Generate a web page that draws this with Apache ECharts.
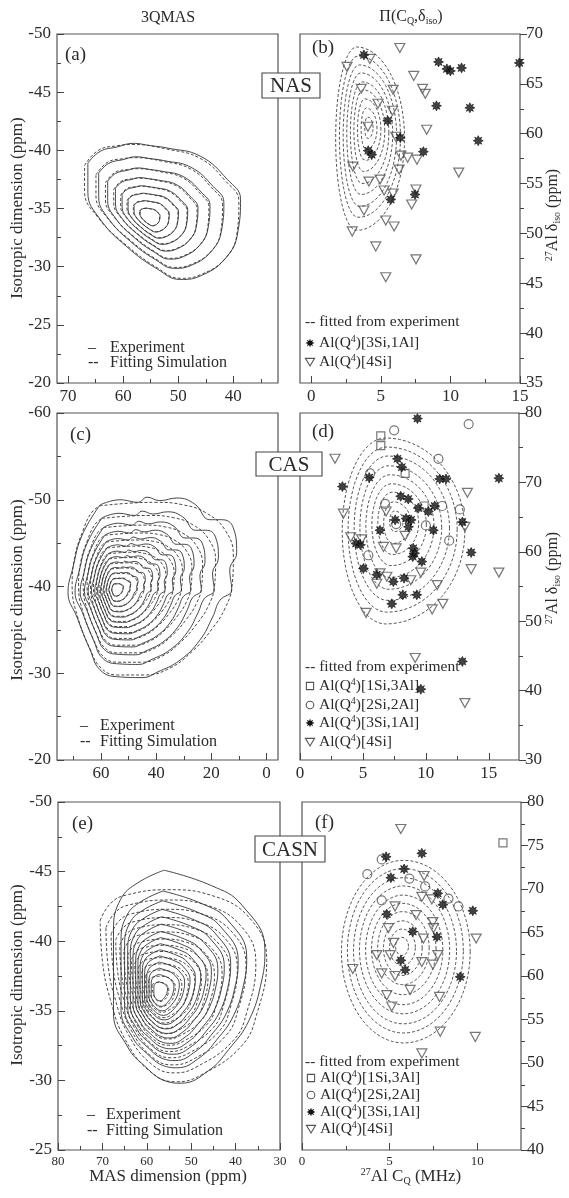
<!DOCTYPE html>
<html>
<head>
<meta charset="utf-8">
<script src="https://cdn.jsdelivr.net/npm/echarts@6/dist/echarts.min.js"></script>
<style>html,body{margin:0;padding:0;background:#fff}#c{width:569px;height:1198px}</style>
</head>
<body>
<div id="c"></div>
<script>
// ---------- 3QMAS contour data (MAS ppm, isotropic ppm) ----------
const aCenter = [55.5, -34.2];
const aExpOuter = [[66.4,-38.9],[64.2,-39.9],[61.0,-40.3],[58.2,-40.6],[55.0,-40.4],[52.0,-40.2],[46.0,-39.5],[41.1,-37.5],[38.7,-35.8],[39.1,-33.2],[41.1,-30.9],[46.0,-29.2],[49.6,-28.9],[53.8,-29.8],[59.3,-31.7],[64.2,-34.1],[66.4,-36.4]];
const aSimOuter = [[67.0,-38.7],[64.5,-40.0],[61.0,-40.4],[58.2,-40.5],[52.0,-40.1],[46.0,-39.3],[41.5,-37.4],[39.0,-35.6],[39.3,-33.0],[41.3,-30.8],[46.0,-29.3],[49.6,-29.0],[53.8,-29.9],[59.3,-31.8],[64.5,-34.2],[67.0,-36.5]];
const aLevels = [1, 0.82, 0.67, 0.54, 0.43, 0.33, 0.23, 0.13];

const cCenter = [55.0, -39.6];
const cExpOuter = [[60.4,-49.4],[53.2,-50.0],[46.5,-49.7],[43.4,-50.3],[38.7,-49.9],[32.5,-50.2],[26.0,-49.5],[20.6,-47.7],[16.2,-47.7],[12.2,-46.9],[10.8,-43.9],[13.3,-41.9],[12.6,-39.6],[16.9,-38.4],[19.5,-36.5],[24.2,-33.8],[31.4,-31.5],[39.8,-30.1],[44.8,-29.5],[54.3,-29.6],[60.4,-30.4],[64.0,-32.7],[68.8,-36.5],[72.0,-39.3],[70.2,-42.2],[66.9,-45.9]];
const cSimOuter = [[60.5,-49.3],[50.0,-49.6],[40.0,-49.7],[30.0,-49.4],[22.0,-48.5],[15.0,-46.5],[12.0,-43.5],[12.5,-40.0],[15.0,-37.5],[20.0,-35.0],[27.0,-32.5],[35.0,-30.6],[44.0,-29.8],[54.0,-29.8],[60.0,-30.6],[64.0,-32.8],[68.5,-36.5],[70.5,-40.0],[69.5,-43.5],[66.5,-46.5],[63.5,-48.5]];
const cLevels = [1, 0.85, 0.74, 0.65, 0.57, 0.5, 0.43, 0.37, 0.31, 0.25, 0.19, 0.13, 0.07];

const eCenter = [57.5, -36.3];
const eExpOuter = [[56.1,-45.1],[62.0,-44.2],[65.9,-43.0],[67.5,-40.8],[67.5,-37.2],[67.5,-34.8],[64.3,-32.4],[61.4,-31.3],[55.2,-29.9],[52.3,-29.8],[46.1,-30.7],[41.6,-32.2],[37.0,-34.3],[34.1,-37.2],[33.4,-39.4],[38.6,-42.6],[45.5,-44.0]];
const eSimOuter = [[70.5,-41.5],[68.2,-42.7],[64.8,-43.3],[55.2,-43.7],[45.5,-43.3],[36.4,-41.5],[33.0,-38.6],[35.2,-34.8],[38.6,-32.5],[47.7,-30.4],[53.4,-29.9],[59.1,-30.6],[64.8,-32.9],[68.2,-35.8],[70.0,-38.6]];
const eExpLevels = [1, 0.83, 0.75, 0.68, 0.62, 0.56, 0.5, 0.45, 0.4, 0.35, 0.3, 0.25, 0.2, 0.15, 0.09];
const eSimLevels = [1, 0.9, 0.81, 0.73, 0.66, 0.59, 0.52, 0.46, 0.4, 0.34, 0.28, 0.22, 0.16, 0.1];

// ---------- fitted (CQ, delta_iso) distribution rings: [cx, cy, rxLeft, rxRight, ry] ----------
const bRings = [[4.05,60.6,0.20,0.40,1.1],[3.95,60.5,0.36,0.78,2.1],[3.85,60.4,0.52,1.16,3.1],[3.75,60.3,0.68,1.54,4.1],[3.66,60.1,0.84,1.92,5.1],[3.56,60.0,1.00,2.30,6.1],[3.46,59.8,1.16,2.68,7.1],[3.36,59.7,1.33,3.06,8.1],[3.26,59.5,1.50,3.45,9.2]];
const dRings = [[7.50,64.4,0.38,0.70,1.5],[7.41,64.2,0.76,1.40,3.0],[7.33,64.1,1.15,2.10,4.5],[7.24,63.9,1.53,2.80,5.9],[7.15,63.7,1.92,3.50,7.4],[7.06,63.5,2.30,4.20,8.9],[6.98,63.4,2.68,4.90,10.4],[6.89,63.2,3.07,5.60,11.9],[6.80,63.0,3.45,6.30,13.4]];
const fRings = [[5.70,63.4,0.36,0.38,1.05],[5.71,63.3,0.71,0.76,2.1],[5.72,63.2,1.07,1.14,3.15],[5.74,63.2,1.42,1.52,4.2],[5.75,63.1,1.78,1.90,5.25],[5.76,63.0,2.13,2.28,6.3],[5.77,63.0,2.49,2.66,7.35],[5.78,62.9,2.84,3.04,8.4],[5.79,62.9,3.20,3.42,9.45],[5.80,62.8,3.55,3.80,10.5]];

// ---------- individual Al sites (CQ MHz, delta_iso ppm) ----------
const bStar = [[3.79,67.9],[9.15,67.2],[9.75,66.5],[10.0,66.3],[10.8,66.6],[14.95,67.1],[9.0,62.8],[11.4,62.6],[5.5,61.3],[12.0,59.3],[6.4,59.6],[8.06,58.2],[4.1,58.3],[4.35,57.9],[5.72,53.4],[7.46,53.9]];
const bTri = [[6.37,68.6],[2.58,66.7],[4.22,67.5],[7.37,65.8],[3.6,64.5],[5.89,64.4],[8.0,64.5],[8.2,64.0],[4.8,63.0],[5.84,62.3],[8.3,60.4],[4.08,60.7],[6.08,59.7],[6.45,57.8],[6.93,57.6],[7.6,57.4],[6.32,56.4],[3.0,56.7],[10.6,56.1],[4.15,55.2],[4.95,55.4],[5.24,54.3],[5.89,54.0],[7.53,54.4],[7.22,52.9],[3.79,52.3],[5.36,51.3],[5.96,50.7],[2.95,50.2],[4.64,48.7],[7.53,47.4],[5.36,45.6]];

const dStar = [[9.33,79.2],[15.8,70.6],[7.74,73.4],[8.09,72.2],[5.5,70.7],[3.37,69.4],[11.1,70.5],[11.6,70.5],[8.0,68.0],[8.6,67.6],[9.4,66.3],[10.2,65.8],[10.7,66.6],[7.56,64.6],[8.43,64.8],[8.83,64.6],[8.62,63.6],[6.36,63.1],[10.6,63.1],[12.9,64.3],[4.45,61.2],[4.8,61.0],[9.0,60.5],[9.1,59.8],[8.96,59.3],[9.68,58.6],[5.04,57.6],[6.1,56.7],[7.42,55.7],[8.27,56.2],[13.6,59.9],[8.17,53.8],[9.28,53.8],[7.29,52.5],[12.9,44.2],[9.6,40.2]];
const dCircle = [[7.48,77.5],[13.4,78.4],[11.0,73.4],[5.57,71.3],[11.3,66.6],[12.7,66.1],[6.76,66.9],[7.64,64.0],[10.0,63.8],[11.85,61.6],[5.43,59.5]];
const dSquare = [[6.42,76.7],[6.42,75.3],[8.35,71.3],[9.86,66.6]];
const dTri = [[2.78,73.4],[3.45,65.5],[13.3,68.5],[6.84,65.8],[4.03,62.1],[4.9,61.8],[8.35,62.3],[6.63,60.7],[7.64,60.5],[9.6,57.0],[13.6,57.5],[15.8,57.0],[6.36,56.9],[6.9,56.4],[6.1,55.4],[8.8,55.9],[10.9,55.2],[13.1,63.6],[5.25,51.2],[10.5,51.7],[11.35,52.5],[9.15,44.7],[13.1,38.2]];

const fStar = [[6.84,74.1],[4.8,73.7],[5.83,72.3],[5.07,71.3],[7.75,69.5],[8.04,68.2],[9.75,67.5],[4.84,67.1],[6.32,65.1],[7.7,64.5],[5.64,61.8],[5.89,60.7],[9.03,59.9]];
const fCircle = [[4.55,73.4],[3.73,71.7],[6.13,71.2],[7.03,70.3],[4.55,68.7],[8.36,68.9],[8.93,68.0]];
const fSquare = [[11.47,75.3]];
const fTri = [[5.64,76.9],[6.97,71.5],[6.84,69.1],[7.41,68.8],[5.31,68.0],[6.51,67.0],[7.47,66.2],[7.5,65.5],[4.93,65.5],[6.93,64.3],[9.94,64.3],[5.22,63.8],[4.27,62.4],[5.03,62.4],[7.75,62.4],[6.84,61.6],[7.47,61.3],[2.9,60.8],[4.55,60.3],[5.31,60.0],[4.84,57.8],[6.17,58.4],[7.85,57.6],[5.12,56.5],[7.89,53.6],[9.89,53.0],[6.84,51.1]];

// ---------- tick values ----------
const aXMajor = [70,60,50,40], aXMinor = [65,55,45,35];
const aYMajor = [-50,-45,-40,-35,-30,-25,-20], aYMinor = [-47.5,-42.5,-37.5,-32.5,-27.5,-22.5];
const bXMajor = [0,5,10,15], bXMinor = [2.5,7.5,12.5];
const bYMajor = [35,40,45,50,55,60,65,70], bYMinor = [37.5,42.5,47.5,52.5,57.5,62.5,67.5];
const cXMajor = [60,40,20,0], cXMinor = [70,50,30,10];
const cYMajor = [-60,-50,-40,-30,-20], cYMinor = [-55,-45,-35,-25];
const dXMajor = [0,5,10,15], dXMinor = [2.5,7.5,12.5];
const dYMajor = [30,40,50,60,70,80], dYMinor = [35,45,55,65,75];
const eXMajor = [80,70,60,50,40,30], eXMinor = [75,65,55,45,35];
const eYMajor = [-50,-45,-40,-35,-30,-25], eYMinor = [-47.5,-42.5,-37.5,-32.5,-27.5];
const fXMajor = [0,5,10], fXMinor = [2.5,7.5];
const fYMajor = [40,45,50,55,60,65,70,75,80], fYMinor = [42.5,47.5,52.5,57.5,62.5,67.5,72.5,77.5];

// ---------- layout ----------
const FONT = 'Liberation Serif';
const INK = '#2b2b2b';
const grids = [
  {left:57, top:34, width:221, height:349},
  {left:300, top:34, width:220, height:349},
  {left:57, top:413, width:221, height:347},
  {left:300, top:413, width:219, height:347},
  {left:58, top:802, width:222, height:348},
  {left:302, top:802, width:219, height:348}
].map(g => Object.assign(g, {show:true, borderColor:'#555', borderWidth:1.2, backgroundColor:'transparent'}));

const panels = [
  {x:{min:31.9,max:72,inverse:true,major:aXMajor,minor:aXMinor,size:17}, y:{min:-50,max:-20,inverse:true,major:aYMajor,minor:aYMinor,pos:'left',size:17}},
  {x:{min:-0.8,max:15,major:bXMajor,minor:bXMinor,size:17}, y:{min:35,max:70,major:bYMajor,minor:bYMinor,pos:'right',size:17}},
  {x:{min:-4.2,max:76,inverse:true,major:cXMajor,minor:cXMinor,size:17}, y:{min:-60,max:-20,inverse:true,major:cYMajor,minor:cYMinor,pos:'left',size:17}},
  {x:{min:0,max:17.4,major:dXMajor,minor:dXMinor,size:17}, y:{min:30,max:80,major:dYMajor,minor:dYMinor,pos:'right',size:17}},
  {x:{min:30,max:80,inverse:true,major:eXMajor,minor:eXMinor,size:13}, y:{min:-50,max:-25,inverse:true,major:eYMajor,minor:eYMinor,pos:'left',size:17}},
  {x:{min:0,max:12.5,major:fXMajor,minor:fXMinor,size:13}, y:{min:40,max:80,major:fYMajor,minor:fYMinor,pos:'right',size:17}}
];

function axisDef(a, gi, pos, major, inside) {
  return {
    type:'value', gridIndex:gi, position:pos, min:a.min, max:a.max, inverse:!!a.inverse,
    axisLine:{show:false, onZero:false}, splitLine:{show:false},
    axisTick:{show:true, inside:inside, length:major ? 7 : 4, customValues:major ? a.major : a.minor,
      lineStyle:{color:'#444', width:1}},
    axisLabel:{show:major, customValues:a.major, fontFamily:FONT, fontSize:a.size, color:INK,
      margin:pos === 'bottom' ? 5 : 6, hideOverlap:false, formatter:v => String(v)}
  };
}

const xAxis = [], yAxis = [];
panels.forEach((p, i) => {
  xAxis.push(axisDef(p.x, i, 'bottom', true, true));
  xAxis.push(axisDef(p.x, i, 'bottom', false, true));
  const ins = p.y.pos === 'left';
  yAxis.push(axisDef(p.y, i, p.y.pos, true, ins));
  yAxis.push(axisDef(p.y, i, p.y.pos, false, ins));
});

// ---------- series ----------
const series = [];
function scaled(outer, center, f) {
  const pts = outer.map(p => [center[0] + f * (p[0] - center[0]), center[1] + f * (p[1] - center[1])]);
  pts.push(pts[0]);
  return pts;
}
function contourSet(gi, outer, center, levels, dashed) {
  levels.forEach(f => series.push({
    type:'line', xAxisIndex:2*gi, yAxisIndex:2*gi, data:scaled(outer, center, f),
    showSymbol:false, smooth:0.45, silent:true, animation:false, z:2,
    lineStyle:{color:'#333', width:0.9, type:dashed ? [3,2] : 'solid'}
  }));
}
function ringPts(r) {
  const [cx, cy, rxl, rxr, ry] = r, pts = [], N = 72;
  for (let i = 0; i <= N; i++) {
    const t = 2 * Math.PI * i / N, c = Math.cos(t), s = Math.sin(t);
    pts.push([cx + (c < 0 ? rxl : rxr) * c, cy + ry * s]);
  }
  return pts;
}
function ringSet(gi, rings) {
  rings.forEach(r => series.push({
    type:'line', xAxisIndex:2*gi, yAxisIndex:2*gi, data:ringPts(r),
    showSymbol:false, smooth:false, silent:true, animation:false, z:2,
    lineStyle:{color:'#444', width:0.9, type:[3,2]}
  }));
}
const STAR = 'path://M0,-10 L2.6,-4.8 L7.1,-7.1 L4.8,-2.6 L10,0 L4.8,2.6 L7.1,7.1 L2.6,4.8 L0,10 L-2.6,4.8 L-7.1,7.1 L-4.8,2.6 L-10,0 L-4.8,-2.6 L-7.1,-7.1 L-2.6,-4.8 Z';
const markStyles = {
  star:{symbol:STAR, symbolSize:10, itemStyle:{color:'#111', borderColor:'#111', borderWidth:0.8}},
  tri:{symbol:'triangle', symbolRotate:180, symbolSize:[10,9], itemStyle:{color:'rgba(255,255,255,0)', borderColor:'#555', borderWidth:1.2}},
  circle:{symbol:'circle', symbolSize:9, itemStyle:{color:'rgba(255,255,255,0)', borderColor:'#555', borderWidth:1.2}},
  square:{symbol:'rect', symbolSize:8, itemStyle:{color:'rgba(255,255,255,0)', borderColor:'#555', borderWidth:1.2}}
};
function scatterSet(gi, kind, data) {
  series.push(Object.assign({type:'scatter', xAxisIndex:2*gi, yAxisIndex:2*gi, data:data, silent:true, animation:false, z:5}, markStyles[kind]));
}

contourSet(0, aExpOuter, aCenter, aLevels, false);
contourSet(0, aSimOuter, aCenter, aLevels, true);
contourSet(2, cExpOuter, cCenter, cLevels, false);
contourSet(2, cSimOuter, cCenter, cLevels, true);
contourSet(4, eExpOuter, eCenter, eExpLevels, false);
contourSet(4, eSimOuter, eCenter, eSimLevels, true);

ringSet(1, bRings); ringSet(3, dRings); ringSet(5, fRings);
scatterSet(1, 'tri', bTri); scatterSet(1, 'star', bStar);
scatterSet(3, 'tri', dTri); scatterSet(3, 'circle', dCircle); scatterSet(3, 'square', dSquare); scatterSet(3, 'star', dStar);
scatterSet(5, 'tri', fTri); scatterSet(5, 'circle', fCircle); scatterSet(5, 'square', fSquare); scatterSet(5, 'star', fStar);

// ---------- annotations ----------
const RICH = {
  sup:{fontFamily:FONT, fontSize:10, verticalAlign:'top', lineHeight:10, fill:INK, color:INK},
  sub:{fontFamily:FONT, fontSize:10, verticalAlign:'bottom', lineHeight:10, fill:INK, color:INK}
};
function txt(x, y, text, o) {
  o = o || {};
  return {
    type:'text', x:x, y:y, rotation:o.rot || 0, z:20,
    style:{text:text, fontFamily:FONT, fontSize:o.size || 16, fill:INK,
      align:o.align || 'left', textAlign:o.align || 'left',
      verticalAlign:'middle', textVerticalAlign:'middle', lineHeight:o.lh || (o.size || 16) + 2, rich:RICH}
  };
}
function starPts(cx, cy, r) {
  const pts = [];
  for (let i = 0; i < 16; i++) {
    const a = Math.PI * i / 8, rr = i % 2 ? r * 0.5 : r;
    pts.push([cx + rr * Math.sin(a), cy - rr * Math.cos(a)]);
  }
  return pts;
}
function legendMark(kind, x, y) {
  const st = {fill:'rgba(255,255,255,0)', stroke:'#555', lineWidth:1.1};
  if (kind === 'star') return {type:'polygon', z:20, shape:{points:starPts(x, y, 4.6)}, style:{fill:'#111'}};
  if (kind === 'tri') return {type:'polygon', z:20, shape:{points:[[x-4.6,y-3.6],[x+4.6,y-3.6],[x,y+4]]}, style:st};
  if (kind === 'circle') return {type:'circle', z:20, shape:{cx:x, cy:y, r:3.8}, style:st};
  return {type:'rect', z:20, shape:{x:x-3.6, y:y-3.6, width:7.2, height:7.2}, style:st};
}
function boxLabel(x, y, w, h, text) {
  return [
    {type:'rect', z:18, shape:{x:x, y:y, width:w, height:h}, style:{fill:'#fff', stroke:'#444', lineWidth:1.1}},
    txt(x + w / 2, y + h / 2 + 1, text, {size:21, align:'center'})
  ];
}
const graphic = [
  txt(168, 18, '3QMAS', {size:16, align:'center'}),
  txt(411, 17, 'Π(C{sub|Q},δ{sub|iso})', {size:16, align:'center'}),
  txt(65, 55, '(a)', {size:19}),
  txt(312, 48, '(b)', {size:19}),
  txt(70, 435, '(c)', {size:19}),
  txt(312, 432, '(d)', {size:19}),
  txt(72, 824, '(e)', {size:19}),
  txt(315, 823, '(f)', {size:19}),
  ...boxLabel(262, 73, 58, 25, 'NAS'),
  ...boxLabel(256, 452, 66, 24, 'CAS'),
  ...boxLabel(255, 836, 70, 26, 'CASN'),
  txt(18, 208, 'Isotropic dimension (ppm)', {size:17, align:'center', rot:Math.PI/2}),
  txt(18, 590, 'Isotropic dimension (ppm)', {size:17, align:'center', rot:Math.PI/2}),
  txt(18, 975, 'Isotropic dimension (ppm)', {size:17, align:'center', rot:Math.PI/2}),
  txt(553, 215, '{sup|27}Al δ{sub|iso} (ppm)', {size:16, align:'center', rot:Math.PI/2}),
  txt(553, 578, '{sup|27}Al δ{sub|iso} (ppm)', {size:16, align:'center', rot:Math.PI/2}),
  txt(168, 1177, 'MAS dimension (ppm)', {size:17, align:'center'}),
  txt(411, 1177, '{sup|27}Al C{sub|Q} (MHz)', {size:17, align:'center'}),
  // left legends
  txt(88, 348, '–', {size:16}), txt(110, 348, 'Experiment', {size:16}),
  txt(88, 363, '--', {size:16}), txt(110, 363, 'Fitting Simulation', {size:16}),
  txt(80, 726, '–', {size:16}), txt(100, 726, 'Experiment', {size:16}),
  txt(80, 742, '--', {size:16}), txt(100, 742, 'Fitting Simulation', {size:16}),
  txt(87, 1115, '–', {size:16}), txt(106, 1115, 'Experiment', {size:16}),
  txt(87, 1131, '--', {size:16}), txt(106, 1131, 'Fitting Simulation', {size:16}),
  // right legends
  txt(305, 322, '-- fitted from experiment', {size:15.5}),
  legendMark('star', 310, 343), txt(319, 343, 'Al(Q{sup|4})[3Si,1Al]', {size:15.5}),
  legendMark('tri', 310, 362), txt(319, 362, 'Al(Q{sup|4})[4Si]', {size:15.5}),
  txt(305, 667, '-- fitted from experiment', {size:15.5}),
  legendMark('square', 310, 686), txt(319, 686, 'Al(Q{sup|4})[1Si,3Al]', {size:15.5}),
  legendMark('circle', 310, 705), txt(319, 705, 'Al(Q{sup|4})[2Si,2Al]', {size:15.5}),
  legendMark('star', 310, 723), txt(319, 723, 'Al(Q{sup|4})[3Si,1Al]', {size:15.5}),
  legendMark('tri', 310, 742), txt(319, 742, 'Al(Q{sup|4})[4Si]', {size:15.5}),
  txt(305, 1062, '-- fitted from experiment', {size:15.5}),
  legendMark('square', 311, 1078), txt(320, 1078, 'Al(Q{sup|4})[1Si,3Al]', {size:15.5}),
  legendMark('circle', 311, 1095), txt(320, 1095, 'Al(Q{sup|4})[2Si,2Al]', {size:15.5}),
  legendMark('star', 311, 1112), txt(320, 1112, 'Al(Q{sup|4})[3Si,1Al]', {size:15.5}),
  legendMark('tri', 311, 1129), txt(320, 1129, 'Al(Q{sup|4})[4Si]', {size:15.5})
];

const chart = echarts.init(document.getElementById('c'), null, {renderer:'canvas'});
chart.setOption({
  animation:false,
  backgroundColor:'#fff',
  grid:grids, xAxis:xAxis, yAxis:yAxis, series:series, graphic:graphic
});
</script>
</body>
</html>
